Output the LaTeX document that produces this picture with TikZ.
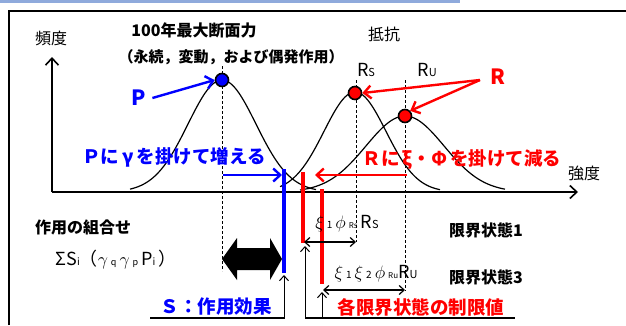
\RequirePackage{fix-cm}
\documentclass[tikz,border=0pt]{standalone}
\usepackage{fontspec}
\setmainfont{Noto Sans CJK JP}
\usetikzlibrary{arrows.meta}
\definecolor{hdr}{RGB}{143,170,220}
\definecolor{pblue}{RGB}{0,0,255}
\definecolor{rred}{RGB}{255,0,0}
\newcommand{\fs}[1]{\fontsize{#1}{#1}\selectfont}
\newcommand{\mg}[1]{\ensuremath{\textstyle #1}}
\begin{document}
\begin{tikzpicture}[x=1pt,y=-1pt,
  txt/.style={inner sep=0pt, anchor=center},
  jreg/.style={txt, font=\fs{16}},
  jbold/.style={txt, font=\fs{16}\bfseries},
  bluebold/.style={txt, font=\fs{18.5}\bfseries, text=pblue},
  redbold/.style={txt, font=\fs{18.5}\bfseries, text=rred},
  vee/.tip={Straight Barb[length=7pt,width=13pt]},
  thin vee/.tip={Straight Barb[length=5pt,width=9pt]},
  axis/.style={line width=1.6pt, -{vee}},
  curve/.style={line width=1.2pt},
  dash line/.style={line width=1pt, dash pattern=on 3pt off 2pt},
  colarrow/.style={line width=2.4pt, -{vee}},
  thinarrow/.style={line width=1pt, -{thin vee}},
  dblarrow/.style={line width=1.2pt, {thin vee}-{thin vee}},
  bar/.style={line width=4.5pt},
  dot/.style={circle, draw=black, line width=1.6pt, minimum size=13pt, inner sep=0pt},
]
\useasboundingbox (0,0) rectangle (626,325);
% header line and frame
\coordinate (h1) at (0,1.5); \coordinate (h2) at (460,1.5);
\draw[hdr, line width=2.5pt] (h1) -- (h2);
\coordinate (f1) at (9,325); \coordinate (f2) at (9,11); \coordinate (f3) at (626,11);
\draw[line width=1.6pt] (f1) -- (f2) -- (f3);
% axes
\coordinate (o) at (52,192); \coordinate (ytop) at (52,57); \coordinate (xend) at (578,192);
\draw[axis] (o) -- (ytop);
\draw[axis] (o) -- (xend);
\node[jreg] (ylab) at (51,38) {頻度};
\node[jreg] (xlab) at (584,173) {強度};
% curves
\begin{scope}
\clip (40,40) rectangle (600,192);
\draw[curve] plot[domain=130:316, samples=90] (\x, {192-112*exp(-(\x-222)*(\x-222)/2312)});
\draw[curve] plot[domain=280:440, samples=90] (\x, {192-100*exp(-(\x-355)*(\x-355)/1922)});
\draw[curve] plot[domain=300:505, samples=90] (\x, {192-76*exp(-(\x-405)*(\x-405)/3042)});
\end{scope}
% dashed lines
\coordinate (dp1) at (222,66); \coordinate (dp2) at (222,271);
\coordinate (ds1) at (356,80); \coordinate (ds2) at (356,242);
\coordinate (du1) at (405,80); \coordinate (du2) at (405,291);
\draw[dash line] (dp1) -- (dp2);
\draw[dash line] (ds1) -- (ds2);
\draw[dash line] (du1) -- (du2);
% dots
\node[dot, fill=pblue] (pdot) at (222,80) {};
\node[dot, fill=rred] (rsdot) at (355,93) {};
\node[dot, fill=rred] (rudot) at (405,116) {};
% titles
\node[jbold] (t1) at (194,30) {100年最大断面力};
\node[txt, font=\fs{15}\bfseries] (t2) at (231,57) {（永続，変動，および偶発作用）};
\node[jreg] (t3) at (384,34) {抵抗};
\node[txt, font=\fs{18}] (rslab) at (366,70) {R{\fs{11}S}};
\node[txt, font=\fs{18}] (rulab) at (427,70) {R{\fs{11}U}};
% P and R labels
\node[txt, font=\fs{21}\bfseries, text=pblue] (plab) at (139,98) {P};
\node[txt, font=\fs{21}\bfseries, text=rred] (rlab) at (498,77) {R};
\draw[colarrow, pblue] (plab.east) ++(6,0) coordinate (pa) (pa) -- (pdot.west);
\coordinate (ra) at (480,80);
\draw[colarrow, rred] (ra) -- (rsdot.east);
\draw[colarrow, rred] (ra) -- (rudot.north east);
% gamma / xi labels
\node[bluebold] (pg) at (174,157) {Ｐに\,γ\,を掛けて増える};
\node[redbold] (rx) at (462,160) {Ｒに\,ξ・Φ\,を掛けて減る};
\coordinate (ba1) at (223,175); \coordinate (ba2) at (282,175);
\draw[colarrow, pblue] (ba1) -- (ba2);
\coordinate (ra1) at (407,175); \coordinate (ra2) at (315,175);
\draw[colarrow, rred] (ra1) -- (ra2);
% bars
\coordinate (bb1) at (284,169); \coordinate (bb2) at (284,273);
\draw[bar, pblue] (bb1) -- (bb2);
\coordinate (rb1) at (303,172); \coordinate (rb2) at (303,243);
\draw[bar, rred] (rb1) -- (rb2);
\coordinate (rc1) at (322,189); \coordinate (rc2) at (322,284);
\draw[bar, rred] (rc1) -- (rc2);
% combination text
\node[jbold] (comb) at (83,227) {作用の組合せ};
\node[txt, font=\fs{18}] (sum) at (116,260) {ΣS{\fs{10}i}（\mg{\gamma}\,{\fs{9}q}\,\mg{\gamma}\,{\fs{9}p}\,P{\fs{10}i}\,）};
% fat double arrow
\fill (222,259) -- (237,238) -- (237,248) -- (270,248) -- (270,238) -- (282,259)
  -- (270,280) -- (270,270) -- (237,270) -- (237,280) -- cycle;
% resistance texts
\node[txt, font=\fs{18}] (xs) at (347,224) {\mg{\xi}\,{\fs{10}1}\,\mg{\phi}\,{\fs{8}Rs}\,R{\fs{11}S}};
\node[txt, font=\fs{18}] (xu) at (376,274) {\mg{\xi}\,{\fs{10}1}\,\mg{\xi}\,{\fs{10}2}\,\mg{\phi}\,{\fs{8}Ru}R{\fs{11}U}};
\coordinate (da1) at (304,242); \coordinate (da2) at (356,242);
\draw[dblarrow] (da1) -- (da2);
\coordinate (db1) at (323,290); \coordinate (db2) at (405,290);
\draw[dblarrow] (db1) -- (db2);
\node[jbold] (ls1) at (486,230) {限界状態1};
\node[jbold] (ls3) at (486,277) {限界状態3};
% bottom labels
\node[bluebold] (se) at (216,307) {Ｓ：作用効果};
\node[redbold] (lim) at (421,307) {各限界状態の制限値};
\coordinate (u1) at (150,318); \coordinate (u2) at (285,318);
\coordinate (u3) at (305,318); \coordinate (u4) at (515,318);
\draw[line width=1.6pt] (u1) -- (u2);
\draw[line width=1.6pt] (u3) -- (u4);
\coordinate (ua) at (284,318); \coordinate (uat) at (284,275);
\coordinate (ub) at (305,318); \coordinate (ubt) at (305,246);
\coordinate (uc) at (322,318); \coordinate (uct) at (322,292);
\draw[thinarrow] (ua) -- (uat);
\draw[thinarrow] (ub) -- (ubt);
\draw[thinarrow] (uc) -- (uct);
\end{tikzpicture}
\end{document}
